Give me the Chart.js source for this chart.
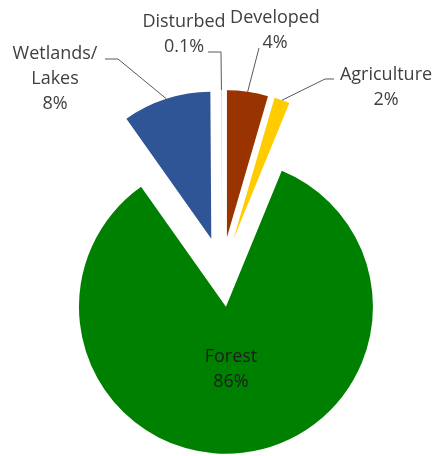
<!DOCTYPE html>
<html>
<head>
<meta charset="utf-8">
<script src="https://cdn.jsdelivr.net/npm/chart.js@4.4.0/dist/chart.umd.min.js"></script>
<style>
    html, body { margin: 0; padding: 0; background: #fff; }
</style>
</head>
<body>
<canvas id="landChart" width="440" height="456"></canvas>
<script>
// land cover shares, clockwise from 12 o'clock
const categories = ['Developed', 'Agriculture', 'Forest', 'Wetlands/Lakes', 'Disturbed'];
const shares = [4.5, 1.7, 84.0, 9.7, 0.1];
const shareLabels = ['4%', '2%', '86%', '8%', '0.1%'];
const sliceColors = ['#993300', '#ffcc00', '#008000', '#2f5597', '#d9d9d9'];

const explode = 35;     // px every slice is pulled out from the centre
const pieRadius = 147;
const textFont = '18px "Open Sans"';
const lineGap = 25;

// baseline of the first label line and the elbow points of each leader line
const labelSpots = [
    { x: 275, y: 23, color: '#404040', leader: [[259, 48]] },
    { x: 386, y: 80, color: '#404040', leader: [[334, 79], [325, 79]] },
    { x: 231, y: 362, color: '#1e1e1e', leader: null },
    { x: 55, y: 59, color: '#404040', leader: [[105, 59], [118, 59]] },
    { x: 184, y: 27, color: '#404040', leader: [[208, 52], [221, 52]] },
];

// the built in "offset" also shrinks the slice angle, so move the arc centres instead
const explodeSlices = {
    id: 'explodeSlices',
    afterDatasetUpdate(chart, args) {
        args.meta.data.forEach((arc) => {
            const mid = (arc.startAngle + arc.endAngle) / 2;
            arc.x += Math.cos(mid) * explode;
            arc.y += Math.sin(mid) * explode;
        });
    }
};

const sliceLabels = {
    id: 'sliceLabels',
    afterDraw(chart) {
        const ctx = chart.ctx;
        const arcs = chart.getDatasetMeta(0).data;
        ctx.save();
        ctx.font = textFont;
        ctx.textAlign = 'center';
        ctx.textBaseline = 'alphabetic';
        ctx.strokeStyle = '#595959';
        ctx.lineWidth = 1;

        arcs.forEach((arc, i) => {
            const spot = labelSpots[i];
            const lines = categories[i].replace('/', '/\n').split('\n');
            lines.push(shareLabels[i]);
            ctx.fillStyle = spot.color;
            lines.forEach((line, k) => {
                ctx.fillText(line, spot.x, spot.y + k * lineGap);
            });

            if (spot.leader) {
                const mid = (arc.startAngle + arc.endAngle) / 2;
                const tipX = arc.x + Math.cos(mid) * arc.outerRadius;
                const tipY = arc.y + Math.sin(mid) * arc.outerRadius;
                ctx.beginPath();
                ctx.moveTo(spot.leader[0][0], spot.leader[0][1]);
                for (let p = 1; p < spot.leader.length; p++) {
                    ctx.lineTo(spot.leader[p][0], spot.leader[p][1]);
                }
                ctx.lineTo(tipX, tipY);
                ctx.stroke();
            }
        });
        ctx.restore();
    }
};

let ctx = document.getElementById('landChart');

new Chart(ctx, {
    type: 'pie',
    data: {
        labels: categories,
        datasets: [{
            data: shares,
            backgroundColor: sliceColors,
            borderWidth: 0,
        }]
    },
    options: {
        responsive: false,
        animation: false,
        events: [],
        radius: pieRadius,
        layout: {
            padding: { left: 4, right: 0, top: 88, bottom: 0 }
        },
        plugins: {
            legend: { display: false },
            tooltip: { enabled: false },
        }
    },
    plugins: [explodeSlices, sliceLabels]
});
</script>
</body>
</html>
